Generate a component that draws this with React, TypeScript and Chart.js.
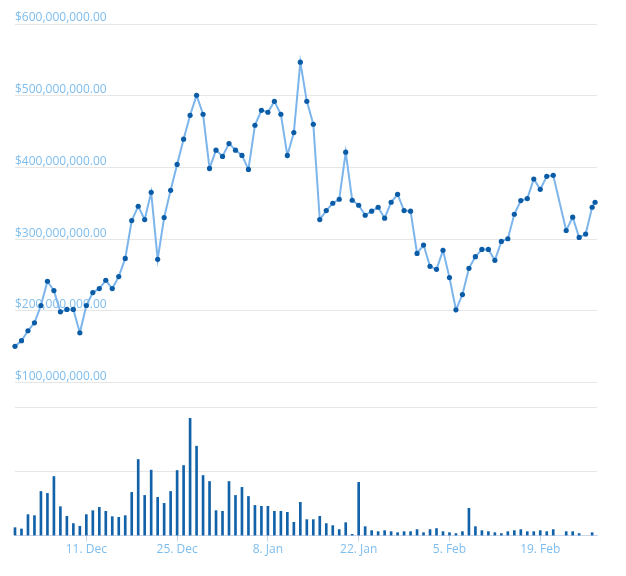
import { useEffect, useRef } from "react";
import { Chart, registerables } from "chart.js";

Chart.register(...registerables);

// Day 0 = 30 Nov; one value per day (null = no data that day)
const tickDays = [11, 25, 39, 53, 67, 81];
const tickLabels = ["11. Dec", "25. Dec", "8. Jan", "22. Jan", "5. Feb", "19. Feb"];

// Market cap in millions of USD
const marketCapM: (number | null)[] = [
  150.5, 158.3, 172.2, 183.3, 207.4, 241.2, 228.2, 198.6, 201.9, 201.9,
  169.4, 207.4, 225.5, 231.0, 242.6, 231.0, 247.7, 273.1, 325.9, 345.8,
  327.3, 365.3, 271.8, 330.1, 368.1, 404.2, 439.4, 472.7, 500.5, 474.1,
  398.6, 424.1, 415.3, 433.3, 424.1, 416.7, 397.2, 458.8, 479.6, 476.9,
  492.1, 474.1, 416.7, 448.6, 546.8, 492.1, 460.2, 327.3, 339.8, 350.0,
  355.6, 421.3, 354.2, 347.2, 333.3, 338.9, 344.4, 329.2, 351.4, 362.5,
  339.8, 338.9, 280.1, 291.7, 262.0, 257.9, 284.3, 246.3, 201.4, 222.7,
  259.3, 275.5, 285.6, 285.6, 270.4, 296.8, 300.5, 334.7, 353.7, 356.5,
  383.8, 369.4, 387.5, 388.9, null, 312.0, 330.6, 302.3, 307.0, 344.4,
];
// latest intraday reading
const latestDay = 89.45;
const latestCapM = 351.4;

// 24h volume in millions of USD
const volumeM: (number | null)[] = [
  6.2, 5.2, 16.4, 15.6, 34.5, 33.0, 46.2, 22.6, 15.1, 9.4,
  7.3, 16.4, 19.5, 22.1, 19.0, 14.8, 14.3, 15.6, 33.8, 59.5,
  31.4, 51.2, 29.9, 25.2, 34.5, 50.9, 54.8, 91.7, 69.9, 47.0,
  42.3, 19.5, 19.0, 42.3, 31.4, 37.7, 30.6, 23.6, 22.9, 22.9,
  19.0, 19.0, 18.2, 10.4, 26.0, 12.5, 12.5, 15.1, 9.4, 7.8,
  4.7, 10.1, 1.0, 41.6, 7.0, 3.9, 3.1, 3.9, 3.1, 2.3,
  3.1, 3.1, 4.7, 2.3, 4.7, 5.5, 3.1, 2.3, 1.6, 3.1,
  21.3, 7.0, 3.9, 3.1, 2.3, 1.6, 3.1, 3.9, 4.7, 3.1,
  3.1, 3.9, 3.1, 4.7, null, 3.1, 3.1, 1.6, null, 2.3,
];

const capTicksM = [100, 200, 300, 400, 500, 600];
const volumeGridM = [0, 50, 100];

const LABEL_COLOR = "#7dbdee";
const FONT = { family: "'Open Sans', sans-serif", size: 12 };

export default function App() {
  const ref = useRef<HTMLCanvasElement | null>(null);

  useEffect(() => {
    if (!ref.current) return;
    const capData: { x: number; y: number | null }[] = marketCapM.map((v, i) => ({ x: i, y: v }));
    capData.push({ x: latestDay, y: latestCapM });
    const volData = volumeM.map((v, i) => ({ x: i, y: v }));

    const chart = new Chart(ref.current, {
      type: "line",
      data: {
        datasets: [
          {
            type: "line",
            data: capData as any,
            yAxisID: "y",
            borderColor: "#7cb5ec",
            borderWidth: 2,
            pointRadius: 2.6,
            pointHoverRadius: 2.6,
            pointBackgroundColor: "#0b5ca6",
            pointBorderWidth: 0,
            tension: 0,
            spanGaps: true,
            clip: false as any,
            order: 0,
          },
          {
            type: "bar",
            data: volData as any,
            yAxisID: "y2",
            backgroundColor: "#1262aa",
            barThickness: 2,
            clip: false as any,
            order: 1,
          },
        ],
      },
      options: {
        animation: false,
        responsive: false,
        events: [],
        layout: { padding: { left: 7, right: 21, top: 16, bottom: 10 } },
        plugins: { legend: { display: false }, tooltip: { enabled: false } },
        scales: {
          x: {
            type: "linear",
            min: 0,
            max: 89.75,
            offset: false,
            afterBuildTicks: (s: any) => {
              s.ticks = tickDays.map((v) => ({ value: v }));
            },
            grid: {
              display: true,
              offset: false,
              drawOnChartArea: false,
              drawTicks: true,
              tickLength: 6,
              tickColor: "#ccd6eb",
            },
            border: { display: true, color: "#ccd6eb", width: 1 },
            ticks: {
              color: LABEL_COLOR,
              font: FONT,
              padding: 1,
              autoSkip: false,
              maxRotation: 0,
              callback: (v: any) => {
                const i = tickDays.indexOf(Number(v));
                return i >= 0 ? tickLabels[i] : "";
              },
            },
          },
          y: {
            type: "linear",
            position: "left",
            min: -113.5,
            max: 600,
            afterBuildTicks: (s: any) => {
              s.ticks = capTicksM.map((v) => ({ value: v }));
            },
            grid: { color: "#e6e6e6", drawTicks: false },
            border: { display: false },
            ticks: {
              mirror: true,
              padding: 0,
              labelOffset: -6,
              color: LABEL_COLOR,
              font: FONT,
              callback: (v: any) =>
                "$" +
                (Number(v) * 1e6).toLocaleString("en-US", {
                  minimumFractionDigits: 2,
                  maximumFractionDigits: 2,
                }),
            },
          },
          y2: {
            type: "linear",
            position: "left",
            min: 0,
            max: 400,
            afterBuildTicks: (s: any) => {
              s.ticks = volumeGridM.map((v) => ({ value: v }));
            },
            grid: {
              color: (ctx: any) => (ctx.tick && ctx.tick.value === 0 ? "rgba(0,0,0,0)" : "#e6e6e6"),
              drawTicks: false,
            },
            border: { display: false },
            ticks: { display: false },
          },
        },
      },
    });
    return () => chart.destroy();
  }, []);

  return (
    <div style={{ width: 610, height: 560 }}>
      <canvas ref={ref} width={610} height={560} style={{ display: "block" }} />
    </div>
  );
}
